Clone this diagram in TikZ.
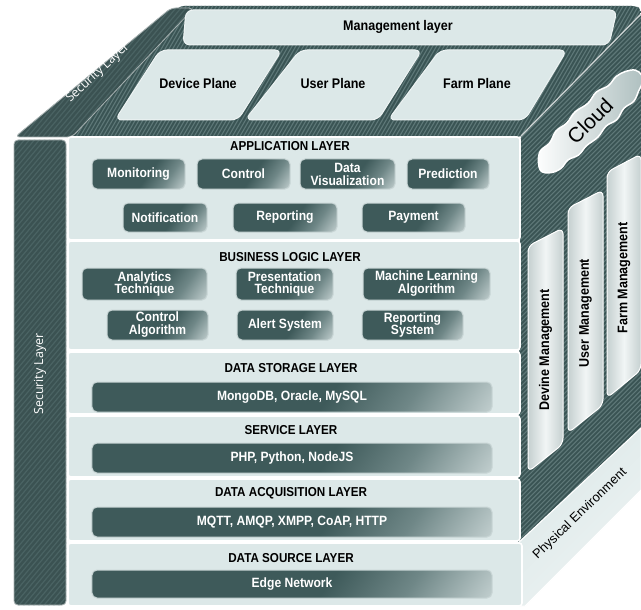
\documentclass[tikz,border=0pt]{standalone}
\usepackage{fontspec}
\setmainfont{Liberation Sans}
\newfontfamily\plainsans{Open Sans}
\newfontfamily\condsans[FakeStretch=0.9]{Liberation Sans}

\definecolor{facedark}{HTML}{3A5454}
\definecolor{facestripe}{HTML}{5E7878}
\definecolor{bardark}{HTML}{3B5252}
\definecolor{barstripe}{HTML}{4A6363}
\definecolor{panel}{HTML}{DCE8E8}
\definecolor{panelhi}{HTML}{EDF3F3}
\definecolor{boxdark}{HTML}{3E5A5A}
\definecolor{boxmid}{HTML}{6F8787}
\definecolor{boxlight}{HTML}{C3D0D0}
\definecolor{boxedge}{HTML}{C9D6D6}
\definecolor{mgmtside}{HTML}{C5D0D0}
\definecolor{mgmtmid}{HTML}{F1F5F5}
\definecolor{cloudgrey}{HTML}{AFC0C0}

% dark-to-light sweep used by the technology boxes
\pgfdeclarehorizontalshading{boxshade}{100bp}{color(0bp)=(boxdark); color(56bp)=(boxdark); color(70bp)=(boxmid); color(85bp)=(boxlight); color(100bp)=(boxlight)}

\tikzset{
  sectionpanel/.style={fill=panel, draw=white, line width=1.6bp, rounded corners=3bp},
  toppanel/.style={fill=panel, draw=panelhi, line width=1bp, rounded corners=7bp},
  toplabel/.style={font=\condsans\bfseries\fontsize{14}{15}\selectfont, text=black, inner sep=0},
  layertitle/.style={font=\condsans\bfseries\fontsize{13}{14}\selectfont, text=black, inner sep=0},
  tech/.style={rounded corners=5bp, draw=boxedge, line width=1bp, shading=boxshade,
    shading angle=-35, text=white, font=\condsans\bfseries\fontsize{13.5}{13}\selectfont,
    align=center, inner sep=0, minimum height=30bp},
  mgmt/.style={rounded corners=6bp, draw=white, line width=1bp,
    left color=mgmtside, right color=mgmtside, middle color=mgmtmid},
  mgmtlabel/.style={rotate=90, font=\condsans\bfseries\fontsize{14}{15}\selectfont, text=black, inner sep=0},
  sectext/.style={font=\plainsans\fontsize{12.5}{14}\selectfont, text=white, inner sep=0},
  facestripes/.style={draw=facestripe, line width=1.1bp},
  barstripes/.style={draw=barstripe, line width=1.2bp},
}

\begin{document}
\begin{tikzpicture}[x=1bp,y=-1bp]
\useasboundingbox (0,0) rectangle (641,610);
\fill[white] (0,0) rectangle (641,610);

% ---- top face of the cube (striped)
\begin{scope}
  \clip[rounded corners=4bp] (40,137) -- (521,137) -- (641,15) -- (641,9) -- (636,6) -- (180,6) -- cycle;
  \fill[facedark] (0,0) rectangle (641,140);
  \foreach \k in {-70,-66.2,...,645} \draw[facestripes] (\k,140) -- ++(81,-140);
\end{scope}

% ---- right face of the cube (striped)
\begin{scope}
  \clip (521,137) -- (641,15) -- (641,428) -- (518,543) -- cycle;
  \fill[facedark] (500,0) rectangle (641,560);
  \foreach \k in {-30,-25.4,...,645} \draw[facestripes] (\k,560) -- ++(550,-550);
\end{scope}
\draw[white!75!facedark, line width=1.2bp] (521,136) -- (641,14);
\draw[white!60!facedark, line width=0.8bp] (518,543) -- (641,428);

% ---- security layer, top strip
\begin{scope}
  \clip[rounded corners=5bp] (15,137) -- (72,137) -- (194,8) -- (171,8) -- cycle;
  \fill[bardark] (0,0) rectangle (200,140);
  \foreach \k in {-120,-115,...,200} \draw[barstripes] (\k,140) -- ++(111,-132);
\end{scope}
\draw[white!55!bardark, line width=0.8bp, rounded corners=5bp] (15,137) -- (72,137) -- (194,8) -- (171,8) -- cycle;
\node[sectext, rotate=43] (sectop) at (98,73) {Security Layer};

% ---- security layer, left strip
\begin{scope}
  \clip[rounded corners=4bp] (14,140) rectangle (66,605);
  \fill[bardark] (0,130) rectangle (70,610);
  \foreach \k in {-400,-395,...,70} \draw[barstripes] (\k,610) -- ++(396,-472);
\end{scope}
\draw[white!55!bardark, line width=0.8bp, rounded corners=4bp] (14,140) rectangle (66,605);
\node[sectext, rotate=90] (secleft) at (40,374) {Security Layer};

% ---- panels on the top face
\draw[toppanel] (186,10) -- (617,10) -- (609,45) -- (183,45) -- cycle;
\node[toplabel] (mlayer) at (398,27) {Management layer};
\draw[toppanel] (115,120) -- (160,50) -- (282,50) -- (238,120) -- cycle;
\draw[toppanel] (245,120) -- (300,50) -- (422,50) -- (378,120) -- cycle;
\draw[toppanel] (388,120) -- (440,50) -- (567,50) -- (525,120) -- cycle;
\node[toplabel] (dplane) at (198,84) {Device Plane};
\node[toplabel] (uplane) at (333,84) {User Plane};
\node[toplabel] (fplane) at (477,84) {Farm Plane};

% ---- cloud on the right face
\begin{scope}[shift={(590,121)}, rotate=45]
  \draw[white, line width=1.5bp, left color=white!92!panel, right color=cloudgrey, shading angle=90]
    plot[smooth cycle, tension=0.6] coordinates {
      (-70,1) (-64,9) (-54,13) (-43,12) (-32,16) (-20,15) (-6,17) (8,15) (20,18) (33,15)
      (45,17) (56,13) (64,10) (69,4) (68,-4) (60,-10) (50,-13) (38,-12) (25,-16) (11,-14)
      (-4,-17) (-18,-15) (-31,-17) (-44,-13) (-56,-14) (-65,-8)};
\end{scope}
\node[rotate=45, font=\fontsize{21}{24}\selectfont, inner sep=0] (cloud) at (590,121) {Cloud};

% ---- management columns on the right face
\draw[mgmt] (528,246) -- (563,228) -- (563,444) -- (528,472) -- cycle;
\draw[mgmt] (568,208) -- (603,190) -- (603,405) -- (568,433) -- cycle;
\draw[mgmt] (607,172) -- (641,154) -- (641,370) -- (607,398) -- cycle;
\node[mgmtlabel] (devmg) at (545.5,350) {Devine Management};
\node[mgmtlabel] (usermg) at (585.5,313) {User Management};
\node[mgmtlabel] (farmmg) at (624,278) {Farm Management};

% ---- physical environment base
\draw[draw=white, line width=1bp, left color=panel, right color=panelhi, shading angle=45]
  (516,545) -- (641,428) -- (641,490) -- (525,606) -- (516,606) -- cycle;
\node[rotate=44, font=\fontsize{13}{15}\selectfont, inner sep=0] (phys) at (580,514) {Physical Environment};

% ---- front face: layer sections
\draw[sectionpanel] (68,137) rectangle (520,240);
\draw[sectionpanel] (68,241) rectangle (520,350);
\draw[sectionpanel] (68,352) rectangle (520,414);
\draw[sectionpanel] (68,416) rectangle (520,477);
\draw[sectionpanel] (68,479) rectangle (520,541);
\draw[sectionpanel] (68,543) rectangle (522,606);

% application layer
\node[layertitle] (apptitle) at (290,146) {APPLICATION LAYER};
\node[tech, minimum width=93bp] (monitor) at (138.5,174) {Monitoring};
\node[tech, minimum width=93bp] (control) at (243.5,174) {Control};
\node[tech, minimum width=95bp] (datavis) at (347.5,174) {Data\\Visualization};
\node[tech, minimum width=82bp] (predict) at (448,174) {Prediction};
\node[tech, minimum width=84bp, minimum height=29bp] (notify) at (165,217.5) {Notification};
\node[tech, minimum width=104bp, minimum height=29bp] (report) at (285,217.5) {Reporting};
\node[tech, minimum width=103bp, minimum height=29bp] (payment) at (413.5,217.5) {Payment};

% business logic layer
\node[layertitle] (bltitle) at (290,257) {BUSINESS LOGIC LAYER};
\node[tech, minimum width=125bp, minimum height=32bp] (analytics) at (144.5,284) {Analytics\\Technique};
\node[tech, minimum width=97bp, minimum height=32bp] (present) at (284.5,284) {Presentation\\Technique};
\node[tech, minimum width=127bp, minimum height=32bp] (mlalgo) at (426.5,284) {Machine Learning\\Algorithm};
\node[tech, minimum width=101bp] (ctrlalgo) at (157.5,325) {Control\\Algorithm};
\node[tech, minimum width=96bp] (alert) at (285,325) {Alert System};
\node[tech, minimum width=101bp] (repsys) at (412.5,325) {Reporting\\System};

% single-bar layers
\node[layertitle] (dstitle) at (291,368) {DATA STORAGE LAYER};
\node[tech, minimum width=400bp] (dbs) at (292,397) {MongoDB, Oracle, MySQL};
\node[layertitle] (svtitle) at (291,430) {SERVICE LAYER};
\node[tech, minimum width=400bp] (langs) at (292,458) {PHP, Python, NodeJS};
\node[layertitle] (datitle) at (291,493) {DATA ACQUISITION LAYER};
\node[tech, minimum width=400bp] (protos) at (292,522) {MQTT, AMQP, XMPP, CoAP, HTTP};
\node[layertitle] (dsrctitle) at (291,558) {DATA SOURCE LAYER};
\node[tech, minimum width=400bp, minimum height=28bp] (edge) at (292,584) {Edge Network};
\end{tikzpicture}
\end{document}
